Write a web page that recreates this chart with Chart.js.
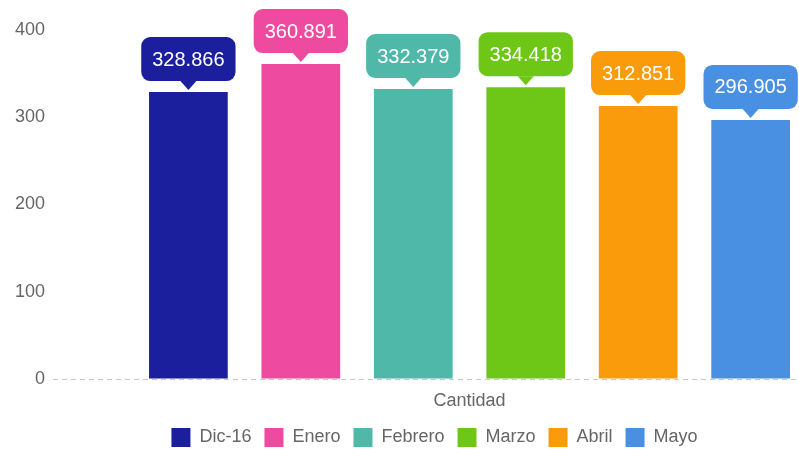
<!DOCTYPE html>
<html>
<head>
<meta charset="utf-8">
<script src="https://cdn.jsdelivr.net/npm/chart.js@4/dist/chart.umd.min.js"></script>
<style>
  html, body { margin: 0; padding: 0; background: #fff; overflow: hidden; }
  #wrap { width: 886px; height: 451px; position: relative; }
</style>
</head>
<body>
<div id="wrap"><canvas id="barChart"></canvas></div>
<script>
const categories = ['Cantidad'];
const seriesNames = ['Dic-16', 'Enero', 'Febrero', 'Marzo', 'Abril', 'Mayo'];
const seriesValues = [328.866, 360.891, 332.379, 334.418, 312.851, 296.905];
const seriesColors = ['#1b1f9e', '#ee4a9f', '#4fb8a9', '#6ec716', '#f99b0b', '#4a90e2'];
const yTicks = [0, 100, 200, 300, 400];

const FONT = '"Liberation Sans", Arial, sans-serif';

// callout bubbles above each bar
const callouts = {
    id: 'callouts',
    afterDatasetsDraw(chart) {
        const ctx = chart.ctx;
        ctx.save();
        ctx.font = '20px ' + FONT;
        ctx.textAlign = 'center';
        ctx.textBaseline = 'middle';
        chart.data.datasets.forEach((ds, i) => {
            const bar = chart.getDatasetMeta(i).data[0];
            if (!bar) return;
            const text = ds.data[0].toFixed(3);
            const w = ctx.measureText(text).width + 22;
            const h = 44;
            const bottom = bar.y - 11;
            const top = bottom - h;
            const left = bar.x - w / 2;
            ctx.fillStyle = ds.backgroundColor;
            ctx.beginPath();
            ctx.roundRect(left, top, w, h, 9);
            ctx.fill();
            ctx.beginPath();
            ctx.moveTo(bar.x - 8, bottom);
            ctx.lineTo(bar.x + 8, bottom);
            ctx.lineTo(bar.x, bar.y - 2);
            ctx.closePath();
            ctx.fill();
            ctx.fillStyle = '#fff';
            ctx.fillText(text, bar.x, top + h / 2 + 1);
        });
        ctx.restore();
    }
};

// nudge the legend a little to the left, as in the source picture
const legendShift = {
    id: 'legendShift',
    afterLayout(chart) {
        chart.legend.left -= 12;
        chart.legend.right -= 12;
    }
};

new Chart(document.getElementById('barChart'), {
    type: 'bar',
    data: {
        labels: categories,
        datasets: seriesNames.map((name, i) => ({
            label: name,
            data: [seriesValues[i]],
            backgroundColor: seriesColors[i],
            borderWidth: 0,
            categoryPercentage: 0.81,
            barPercentage: 0.70,
        }))
    },
    options: {
        responsive: true,
        maintainAspectRatio: false,
        animation: false,
        layout: { padding: { top: 30, left: 7, bottom: -6 } },
        plugins: {
            tooltip: { enabled: false },
            legend: {
                position: 'bottom',
                labels: {
                    boxWidth: 19,
                    boxHeight: 19,
                    padding: 13,
                    color: '#666',
                    font: { size: 18, family: FONT }
                }
            }
        },
        scales: {
            x: {
                grid: { display: false, drawTicks: false },
                border: { display: false },
                ticks: { color: '#666', padding: 11, font: { size: 18, family: FONT } },
                afterFit: scale => { scale.height = 36; }
            },
            y: {
                min: 0,
                max: 400,
                afterBuildTicks: scale => { scale.ticks = yTicks.map(v => ({ value: v })); },
                grid: {
                    drawTicks: false,
                    lineWidth: 1,
                    color: c => (c.tick && c.tick.value === 0 ? '#c8c8c8' : 'rgba(0,0,0,0)')
                },
                border: { display: false, dash: [5, 4] },
                ticks: { color: '#666', padding: 8, font: { size: 18, family: FONT } }
            }
        }
    },
    plugins: [callouts, legendShift]
});
</script>
</body>
</html>
